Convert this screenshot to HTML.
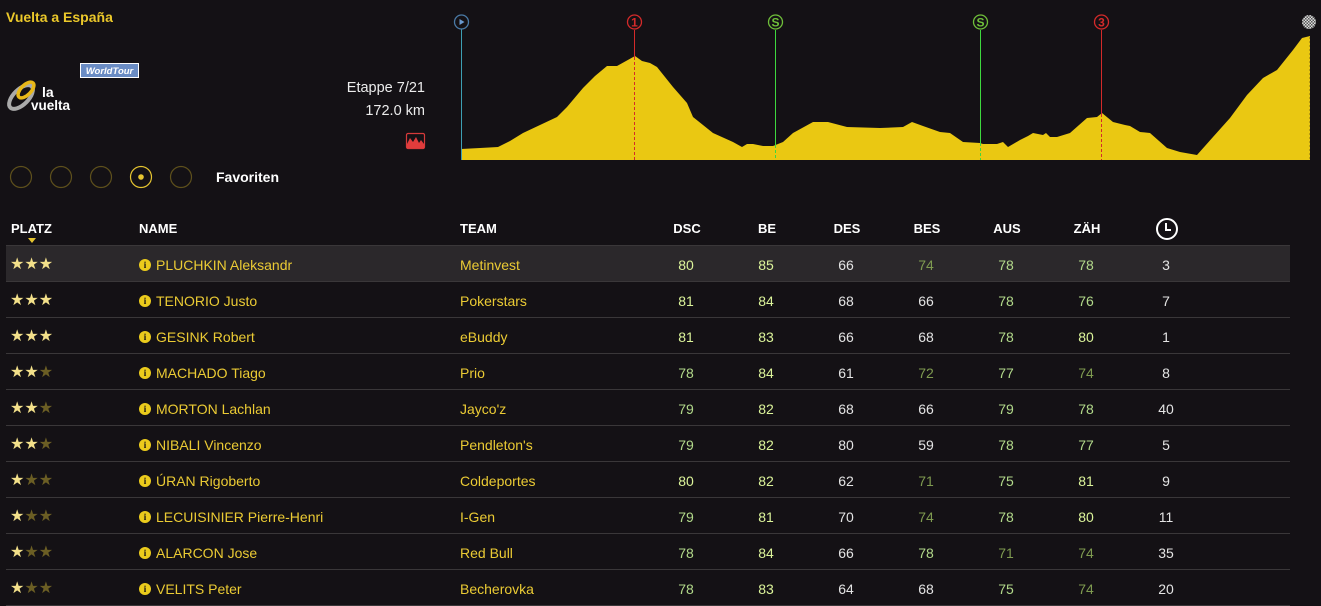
<!DOCTYPE html>
<html><head><meta charset="utf-8">
<style>
html,body{margin:0;padding:0;}
body{width:1321px;height:606px;background:#141115;position:relative;overflow:hidden;font-family:"Liberation Sans",Arial,sans-serif;color:#e6e6e6;}
.a{position:absolute;white-space:nowrap;}
.hd{position:absolute;top:221px;font-size:13px;font-weight:bold;color:#ffffff;line-height:16px;}
.hc{width:60px;text-align:center;margin-left:-30px;}
.row{position:absolute;left:6px;width:1284px;height:35px;border-bottom:1px solid #3a3739;}
.row.hl{background:#2b282b;}
.c{position:absolute;top:10px;font-size:14px;line-height:18px;}
.n{width:40px;text-align:center;margin-left:-20px;}
.g1{color:#dcf49a;}
.g2{color:#b2d98a;}
.g3{color:#7f9b50;}
.w{color:#e4e4e4;}
.y{color:#ebcb34;}
.st{position:absolute;top:8px;left:4px;font-size:16px;letter-spacing:0;line-height:20px;font-family:"DejaVu Sans",sans-serif;}
.on{color:#f3e08a;}
.off{color:#6b5e24;}
.ic{position:absolute;top:13px;left:133px;width:12px;height:12px;border-radius:50%;background:#ebcb1c;color:#141115;font-size:9px;font-weight:bold;line-height:12px;text-align:center;font-family:"Liberation Serif",serif;}
</style></head><body>

<svg class="a" style="left:0;top:0" width="1321" height="200" viewBox="0 0 1321 200" shape-rendering="geometricPrecision">
  <!-- profile -->
  <polygon fill="#eac812" points="461,160 461,149 480,148 498,147 510,141 523,133 540,125 557,117 567,107 583,88 595,76 607,66 617,66 626,61 635,56 642,61 650,63 657,67 665,77 673,87 687,103 693,117 713,133 733,142 742,147 747,144 753,144 763,146 773,146 783,142 793,133 813,122 828,122 847,127 880,128 903,127 912,122 923,126 940,132 950,133 963,142 980,143 983,144 997,144 1003,142 1008,147 1020,140 1028,136 1033,133 1038,134 1043,135 1046,133 1050,137 1057,137 1070,133 1087,118 1097,117 1102,113 1113,122 1125,125 1130,126 1140,132 1150,133 1167,148 1180,152 1197,155 1213,137 1230,118 1247,95 1263,78 1277,70 1293,50 1302,38 1310,36 1310,160"/>
  <!-- start -->
  <rect x="461" y="29" width="1" height="131" fill="#3d9fb3" shape-rendering="crispEdges"/>
  <circle cx="461.5" cy="22" r="7" fill="none" stroke="#4a7aa6" stroke-width="1.3"/>
  <polygon points="459.5,19 459.5,25 464.5,22" fill="#6a9ad0"/>
  <!-- 1 -->
  <rect x="634" y="30" width="1" height="27" fill="#d42a2a" shape-rendering="crispEdges"/>
  <line x1="634.5" y1="57" x2="634.5" y2="160" stroke="#d42a2a" stroke-width="1" stroke-dasharray="3,2" shape-rendering="crispEdges"/>
  <circle cx="634.5" cy="22" r="7" fill="none" stroke="#d42a2a" stroke-width="1.3"/>
  <text x="634.5" y="26.5" font-size="12" font-weight="bold" fill="#d42a2a" text-anchor="middle" font-family="Liberation Sans">1</text>
  <!-- S -->
  <rect x="775" y="30" width="1" height="115" fill="#3ed83e" shape-rendering="crispEdges"/>
  <line x1="775.5" y1="145" x2="775.5" y2="160" stroke="#3ed83e" stroke-width="1" stroke-dasharray="3,2" shape-rendering="crispEdges"/>
  <circle cx="775.5" cy="22" r="7" fill="none" stroke="#6fbf3a" stroke-width="1.3"/>
  <text x="775.5" y="26.5" font-size="12" font-weight="bold" fill="#6fbf3a" text-anchor="middle" font-family="Liberation Sans">S</text>
  <!-- S -->
  <rect x="980" y="30" width="1" height="113" fill="#3ed83e" shape-rendering="crispEdges"/>
  <line x1="980.5" y1="143" x2="980.5" y2="160" stroke="#3ed83e" stroke-width="1" stroke-dasharray="3,2" shape-rendering="crispEdges"/>
  <circle cx="980.5" cy="22" r="7" fill="none" stroke="#6fbf3a" stroke-width="1.3"/>
  <text x="980.5" y="26.5" font-size="12" font-weight="bold" fill="#6fbf3a" text-anchor="middle" font-family="Liberation Sans">S</text>
  <!-- 3 -->
  <rect x="1101" y="30" width="1" height="84" fill="#d42a2a" shape-rendering="crispEdges"/>
  <line x1="1101.5" y1="114" x2="1101.5" y2="160" stroke="#d42a2a" stroke-width="1" stroke-dasharray="3,2" shape-rendering="crispEdges"/>
  <circle cx="1101.5" cy="22" r="7" fill="none" stroke="#d42a2a" stroke-width="1.3"/>
  <text x="1101.5" y="26.5" font-size="12" font-weight="bold" fill="#d42a2a" text-anchor="middle" font-family="Liberation Sans">3</text>
  <!-- finish -->
  <defs><pattern id="chk" width="3" height="3" patternUnits="userSpaceOnUse"><rect width="3" height="3" fill="#ddd"/><rect width="1.5" height="1.5" fill="#555"/><rect x="1.5" y="1.5" width="1.5" height="1.5" fill="#555"/></pattern></defs>
  <circle cx="1309" cy="22" r="7" fill="url(#chk)"/>
  <line x1="1309.5" y1="37" x2="1309.5" y2="160" stroke="#b89a10" stroke-width="1" stroke-dasharray="2,2"/>

  <!-- worldtour badge -->
  <rect x="80.5" y="63.5" width="58" height="14" fill="#6a8cc4" stroke="#ffffff" stroke-width="1"/>
  <text x="109.5" y="74" font-size="9.5" font-weight="bold" font-style="italic" fill="#ffffff" text-anchor="middle" font-family="Liberation Sans">WorldTour</text>

  <!-- la vuelta logo -->
  <ellipse cx="21" cy="97" rx="15" ry="7.5" fill="none" stroke="#aaaaaa" stroke-width="4" transform="rotate(-45 21 97)"/>
  <ellipse cx="26" cy="90" rx="10" ry="5" fill="none" stroke="#e8b818" stroke-width="3.5" transform="rotate(-45 26 90)"/>
  <text x="42" y="97" font-size="14" font-weight="bold" fill="#ffffff" font-family="Liberation Sans">la</text>
  <text x="31" y="110" font-size="13.5" font-weight="bold" fill="#ffffff" font-family="Liberation Sans">vuelta</text>

  <!-- red mountain icon -->
  <rect x="406.5" y="133.5" width="18" height="15" rx="1.5" fill="none" stroke="#d63a3a" stroke-width="1.2"/>
  <polygon points="407,148 407,144 410,138 413,142 416,137 419,143 421,140 424,144 424,148" fill="#e03c3c"/>

  <!-- radio circles -->
  <circle cx="21" cy="177" r="10.5" fill="none" stroke="#5e501c" stroke-width="1.2"/>
  <circle cx="61" cy="177" r="10.5" fill="none" stroke="#5e501c" stroke-width="1.2"/>
  <circle cx="101" cy="177" r="10.5" fill="none" stroke="#5e501c" stroke-width="1.2"/>
  <circle cx="141" cy="177" r="10.5" fill="none" stroke="#e6c530" stroke-width="1.2"/>
  <circle cx="141" cy="177" r="2.8" fill="#e6c530"/>
  <circle cx="181" cy="177" r="10.5" fill="none" stroke="#5e501c" stroke-width="1.2"/>
</svg>

<div class="a" style="left:6px;top:8px;font-size:14px;font-weight:bold;color:#ebc82a;line-height:18px;">Vuelta a España</div>
<div class="a" style="right:896px;top:79px;font-size:14.5px;color:#ececec;line-height:18px;">Etappe 7/21</div>
<div class="a" style="right:896px;top:102px;font-size:14.5px;color:#ececec;line-height:18px;">172.0 km</div>
<div class="a" style="left:216px;top:168px;font-size:14px;font-weight:bold;color:#ffffff;line-height:18px;">Favoriten</div>

<!-- header -->
<div class="hd" style="left:11px;">PLATZ</div>
<svg class="a" style="left:28px;top:238px" width="10" height="6"><polygon points="0,0 8,0 4,5" fill="#e6c530"/></svg>
<div class="hd" style="left:139px;">NAME</div>
<div class="hd" style="left:460px;">TEAM</div>
<div class="hd hc" style="left:687px;">DSC</div>
<div class="hd hc" style="left:767px;">BE</div>
<div class="hd hc" style="left:847px;">DES</div>
<div class="hd hc" style="left:927px;">BES</div>
<div class="hd hc" style="left:1007px;">AUS</div>
<div class="hd hc" style="left:1087px;">ZÄH</div>
<svg class="a" style="left:1155px;top:217px" width="24" height="24"><circle cx="12" cy="12" r="10" fill="none" stroke="#ffffff" stroke-width="2"/><polyline points="11,6 11,13 16,13" fill="none" stroke="#ffffff" stroke-width="2"/></svg>
<div class="a" style="left:6px;top:245px;width:1284px;height:1px;background:#3a3739;"></div>

<!-- rows -->
<div class="row hl" style="top:246px;">
  <div class="st"><span class="on">★★★</span></div>
  <div class="ic">i</div><div class="c y" style="left:150px;">PLUCHKIN Aleksandr</div>
  <div class="c y" style="left:454px;">Metinvest</div>
  <div class="c n g1" style="left:680px;">80</div><div class="c n g1" style="left:760px;">85</div><div class="c n w" style="left:840px;">66</div><div class="c n g3" style="left:920px;">74</div><div class="c n g2" style="left:1000px;">78</div><div class="c n g2" style="left:1080px;">78</div><div class="c n w" style="left:1160px;">3</div>
</div>
<div class="row" style="top:282px;">
  <div class="st"><span class="on">★★★</span></div>
  <div class="ic">i</div><div class="c y" style="left:150px;">TENORIO Justo</div>
  <div class="c y" style="left:454px;">Pokerstars</div>
  <div class="c n g1" style="left:680px;">81</div><div class="c n g1" style="left:760px;">84</div><div class="c n w" style="left:840px;">68</div><div class="c n w" style="left:920px;">66</div><div class="c n g2" style="left:1000px;">78</div><div class="c n g2" style="left:1080px;">76</div><div class="c n w" style="left:1160px;">7</div>
</div>
<div class="row" style="top:318px;">
  <div class="st"><span class="on">★★★</span></div>
  <div class="ic">i</div><div class="c y" style="left:150px;">GESINK Robert</div>
  <div class="c y" style="left:454px;">eBuddy</div>
  <div class="c n g1" style="left:680px;">81</div><div class="c n g1" style="left:760px;">83</div><div class="c n w" style="left:840px;">66</div><div class="c n w" style="left:920px;">68</div><div class="c n g2" style="left:1000px;">78</div><div class="c n g1" style="left:1080px;">80</div><div class="c n w" style="left:1160px;">1</div>
</div>
<div class="row" style="top:354px;">
  <div class="st"><span class="on">★★</span><span class="off">★</span></div>
  <div class="ic">i</div><div class="c y" style="left:150px;">MACHADO Tiago</div>
  <div class="c y" style="left:454px;">Prio</div>
  <div class="c n g2" style="left:680px;">78</div><div class="c n g1" style="left:760px;">84</div><div class="c n w" style="left:840px;">61</div><div class="c n g3" style="left:920px;">72</div><div class="c n g2" style="left:1000px;">77</div><div class="c n g3" style="left:1080px;">74</div><div class="c n w" style="left:1160px;">8</div>
</div>
<div class="row" style="top:390px;">
  <div class="st"><span class="on">★★</span><span class="off">★</span></div>
  <div class="ic">i</div><div class="c y" style="left:150px;">MORTON Lachlan</div>
  <div class="c y" style="left:454px;">Jayco'z</div>
  <div class="c n g2" style="left:680px;">79</div><div class="c n g1" style="left:760px;">82</div><div class="c n w" style="left:840px;">68</div><div class="c n w" style="left:920px;">66</div><div class="c n g2" style="left:1000px;">79</div><div class="c n g2" style="left:1080px;">78</div><div class="c n w" style="left:1160px;">40</div>
</div>
<div class="row" style="top:426px;">
  <div class="st"><span class="on">★★</span><span class="off">★</span></div>
  <div class="ic">i</div><div class="c y" style="left:150px;">NIBALI Vincenzo</div>
  <div class="c y" style="left:454px;">Pendleton's</div>
  <div class="c n g2" style="left:680px;">79</div><div class="c n g1" style="left:760px;">82</div><div class="c n w" style="left:840px;">80</div><div class="c n w" style="left:920px;">59</div><div class="c n g2" style="left:1000px;">78</div><div class="c n g2" style="left:1080px;">77</div><div class="c n w" style="left:1160px;">5</div>
</div>
<div class="row" style="top:462px;">
  <div class="st"><span class="on">★</span><span class="off">★★</span></div>
  <div class="ic">i</div><div class="c y" style="left:150px;">ÚRAN Rigoberto</div>
  <div class="c y" style="left:454px;">Coldeportes</div>
  <div class="c n g1" style="left:680px;">80</div><div class="c n g1" style="left:760px;">82</div><div class="c n w" style="left:840px;">62</div><div class="c n g3" style="left:920px;">71</div><div class="c n g2" style="left:1000px;">75</div><div class="c n g1" style="left:1080px;">81</div><div class="c n w" style="left:1160px;">9</div>
</div>
<div class="row" style="top:498px;">
  <div class="st"><span class="on">★</span><span class="off">★★</span></div>
  <div class="ic">i</div><div class="c y" style="left:150px;">LECUISINIER Pierre-Henri</div>
  <div class="c y" style="left:454px;">I-Gen</div>
  <div class="c n g2" style="left:680px;">79</div><div class="c n g1" style="left:760px;">81</div><div class="c n w" style="left:840px;">70</div><div class="c n g3" style="left:920px;">74</div><div class="c n g2" style="left:1000px;">78</div><div class="c n g1" style="left:1080px;">80</div><div class="c n w" style="left:1160px;">11</div>
</div>
<div class="row" style="top:534px;">
  <div class="st"><span class="on">★</span><span class="off">★★</span></div>
  <div class="ic">i</div><div class="c y" style="left:150px;">ALARCON Jose</div>
  <div class="c y" style="left:454px;">Red Bull</div>
  <div class="c n g2" style="left:680px;">78</div><div class="c n g1" style="left:760px;">84</div><div class="c n w" style="left:840px;">66</div><div class="c n g2" style="left:920px;">78</div><div class="c n g3" style="left:1000px;">71</div><div class="c n g3" style="left:1080px;">74</div><div class="c n w" style="left:1160px;">35</div>
</div>
<div class="row" style="top:570px;">
  <div class="st"><span class="on">★</span><span class="off">★★</span></div>
  <div class="ic">i</div><div class="c y" style="left:150px;">VELITS Peter</div>
  <div class="c y" style="left:454px;">Becherovka</div>
  <div class="c n g2" style="left:680px;">78</div><div class="c n g1" style="left:760px;">83</div><div class="c n w" style="left:840px;">64</div><div class="c n w" style="left:920px;">68</div><div class="c n g2" style="left:1000px;">75</div><div class="c n g3" style="left:1080px;">74</div><div class="c n w" style="left:1160px;">20</div>
</div>

</body></html>
